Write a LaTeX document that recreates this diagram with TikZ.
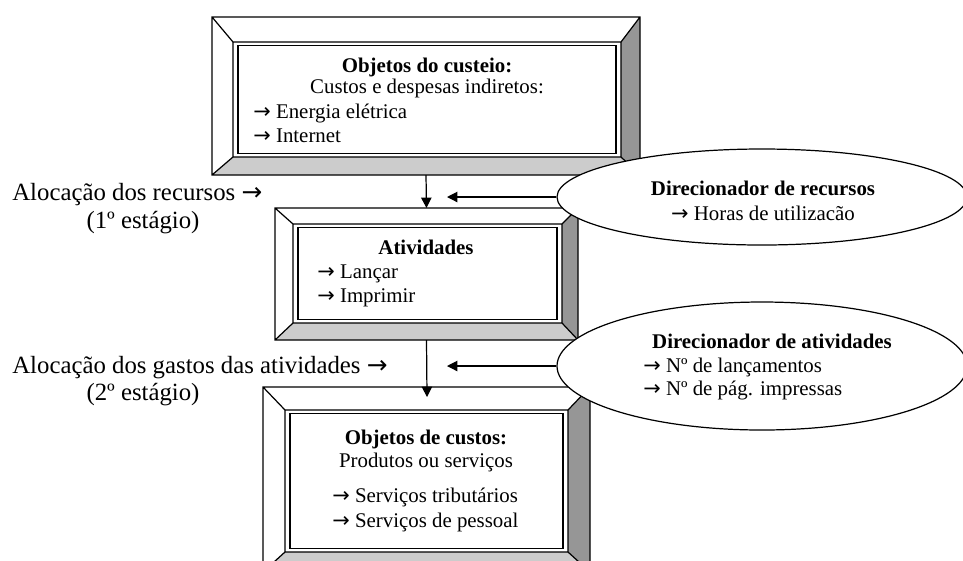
\documentclass[tikz,border=0pt]{standalone}
\usepackage{fontspec}
\setmainfont{Liberation Serif}
\newfontfamily\setafont{DejaVu Sans}
\newcommand{\flecha}{{\setafont\char"2192}}
\usetikzlibrary{shapes.geometric,arrows.meta}
\definecolor{bevelbot}{gray}{0.8}
\definecolor{bevelside}{gray}{0.59}
\begin{document}
\begin{tikzpicture}[x=0.575pt,y=-0.575pt]
	\tikzset{
		bevel/.style={draw=black,line width=0.7pt},
		caixa/.style={draw=black,line width=0.6pt},
		balao/.style={ellipse,draw,fill=white,line width=0.7pt,minimum width=235.75pt,inner sep=0pt},
		txt/.style={inner sep=0pt,font=\fontsize{12}{13.8}\selectfont},
		rotulo/.style={inner sep=0pt,font=\fontsize{14.25}{16}\selectfont},
		seta/.style={-{Triangle[length=6pt,width=6pt]},line width=0.7pt}
	}
	\clip (0,0) rectangle (963,560);
	% caixas chanfradas: nome / canto externo / face interna
	\foreach \n/\xa/\ya/\xb/\yb/\xc/\yc/\xd/\yd in {custeio/212/17/640/175/233/42/621/157,
		ativ/275/208/578/340/293/224/562/323,
		custos/263/387/590/572/285/410/568/552}{
		\fill[white] (\xa,\ya) rectangle (\xb,\yb);
		\fill[bevelbot] (\xa,\yb) -- (\xc,\yd) -- (\xd,\yd) -- (\xb,\yb) -- cycle;
		\fill[bevelside] (\xb,\ya) -- (\xd,\yc) -- (\xd,\yd) -- (\xb,\yb) -- cycle;
		\draw[bevel]
		(\xa,\ya) rectangle (\xb,\yb)
		(\xc,\yc) rectangle (\xd,\yd)
		(\xa,\ya)--(\xc,\yc) (\xb,\ya)--(\xd,\yc)
		(\xa,\yb)--(\xc,\yd) (\xb,\yb)--(\xd,\yd)
		;
		\draw[caixa] (\xc+5,\yc+3.5) rectangle (\xd-5,\yd-3.5);
		\coordinate (\n-n) at ({(\xa+\xb)/2},\ya);
		\coordinate (\n-s) at ({(\xa+\xb)/2},\yb);
	}
	% textos das caixas
	\node[txt,anchor=base] (custeio1) at (427,72) {\textbf{Objetos do custeio:}};
	\node[txt,anchor=base] (custeio2) at (427,93) {Custos e despesas indiretos:};
	\node[txt,anchor=base west] (custeio3) at (253,118) {\flecha\ Energia elétrica};
	\node[txt,anchor=base west] (custeio4) at (253,142) {\flecha\ Internet};
	\node[txt,anchor=base] (ativ1) at (426,254) {\textbf{Atividades}};
	\node[txt,anchor=base west] (ativ2) at (317,278) {\flecha\ Lançar};
	\node[txt,anchor=base west] (ativ3) at (317,302) {\flecha\ Imprimir};
	\node[txt,anchor=base] (custos1) at (426,444) {\textbf{Objetos de custos:}};
	\node[txt,anchor=base] (custos2) at (426,467) {Produtos ou serviços};
	\node[txt,anchor=base west] (custos3) at (332,502) {\flecha\ Serviços tributários};
	\node[txt,anchor=base west] (custos4) at (332,527) {\flecha\ Serviços de pessoal};
	% direcionadores
	\node[balao,minimum height=55.2pt] (dirrec) at (762,197) {};
	\node[balao,minimum height=73.6pt] (dirativ) at (762,366) {};
	\node[txt,anchor=base] (dirrec1) at (763,195) {\textbf{Direcionador de recursos}};
	\node[txt,anchor=base] (dirrec2) at (763,220) {\flecha\ Horas de utilizacão};
	\node[txt,anchor=base] (dirativ1) at (772,348) {\textbf{Direcionador de atividades}};
	\node[txt,anchor=base west] (dirativ2) at (643,372) {\flecha\ Nº de lançamentos};
	\node[txt,anchor=base west] (dirativ3) at (643,395) {\flecha\ Nº de pág. impressas};
	% estagios
	\node[rotulo,anchor=base west] (aloc1) at (12,200) {Alocação dos recursos \flecha};
	\node[rotulo,anchor=base] (est1) at (143,228) {(1º estágio)};
	\node[rotulo,anchor=base west] (aloc2) at (12,373) {Alocação dos gastos das atividades \flecha};
	\node[rotulo,anchor=base] (est2) at (143,400) {(2º estágio)};
	% setas
	\coordinate (p1) at (447,197);
	\coordinate (p2) at (447,366);
	\coordinate (p3) at (427,397);
	\draw[seta] (custeio-s) -- (ativ-n);
	\draw[seta] (ativ-s) -- (p3);
	\draw[seta] (dirrec.west) -- (p1);
	\draw[seta] (dirativ.west) -- (p2);
\end{tikzpicture}
\end{document}
